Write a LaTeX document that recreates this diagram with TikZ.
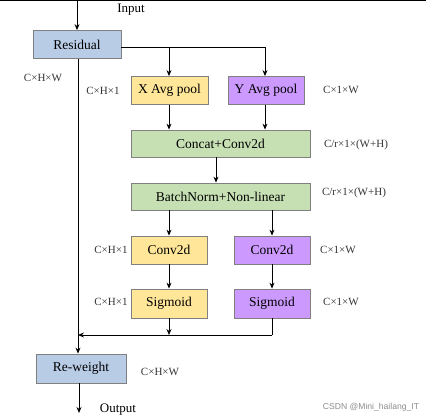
\documentclass[tikz,border=0pt]{standalone}
\usepackage{fontspec}
\setmainfont{Liberation Serif}
\newfontfamily\wmfont{Liberation Sans}
\usetikzlibrary{arrows.meta}
\definecolor{bluef}{HTML}{B8CCE6}
\definecolor{yelf}{HTML}{FFE699}
\definecolor{purf}{HTML}{CC99FF}
\definecolor{grnf}{HTML}{C6E0B4}
\definecolor{bord}{HTML}{808080}
\tikzset{
  blk/.style={draw=bord, line width=0.8pt, minimum height=28pt, inner sep=0pt, font=\fontsize{13.5}{15}\selectfont},
  lbl/.style={font=\fontsize{11}{13}\selectfont, text=black!80, inner sep=0pt},
  io/.style={font=\fontsize{13}{15}\selectfont, inner sep=0pt},
  arr/.style={-{Stealth[length=6pt,width=5pt]}, line width=0.8pt},
  ln/.style={line width=0.8pt},
}
\begin{document}
\begin{tikzpicture}[x=1pt,y=-1pt]
\useasboundingbox (0,0) rectangle (426,419);
\draw[line width=1pt] (0,0.5) -- (426,0.5);
% boxes
\node[blk, fill=bluef, minimum width=88pt] (res) at (77,44.5) {Residual};
\node[blk, fill=yelf, minimum width=77pt] (xap) at (169.5,90.5) {X Avg pool};
\node[blk, fill=purf, minimum width=76pt] (yap) at (266,90.5) {Y Avg pool};
\node[blk, fill=grnf, minimum width=179pt, minimum height=27pt] (cat) at (220.5,143.5) {Concat+Conv2d};
\node[blk, fill=grnf, minimum width=179pt, minimum height=27pt] (bn) at (220.5,196.5) {BatchNorm+Non-linear};
\node[blk, fill=yelf, minimum width=76pt] (c1) at (169,250) {Conv2d};
\node[blk, fill=purf, minimum width=76pt] (c2) at (272,250) {Conv2d};
\node[blk, fill=yelf, minimum width=76pt, minimum height=29pt] (s1) at (169,303.5) {Sigmoid};
\node[blk, fill=purf, minimum width=76pt, minimum height=29pt] (s2) at (272,303.5) {Sigmoid};
\node[blk, fill=bluef, minimum width=90pt, minimum height=29pt] (rw) at (81,368.5) {Re-weight};
% texts
\node[io] (tin) at (131,10) {Input};
\node[io] (tout) at (118,410) {Output};
\node[lbl] (l1) at (43,78) {C×H×W};
\node[lbl] (l2) at (103,91) {C×H×1};
\node[lbl] (l3) at (341,90) {C×1×W};
\node[lbl] (l4) at (356,145) {C/r×1×(W+H)};
\node[lbl] (l5) at (354,193) {C/r×1×(W+H)};
\node[lbl] (l6) at (111,250) {C×H×1};
\node[lbl] (l7) at (338,250) {C×1×W};
\node[lbl] (l8) at (111,302) {C×H×1};
\node[lbl] (l9) at (341,302) {C×1×W};
\node[lbl] (l10) at (160,372) {C×H×W};
\node[font=\wmfont\fontsize{8.6}{10}\selectfont, text=black!45, inner sep=0pt] (wm) at (371,407) {CSDN @Mini\_hailang\_IT};
% connectors
\coordinate (top) at (77,0);
\coordinate (j1) at (265,47);
\coordinate (j2) at (169,47);
\coordinate (m) at (272,335);
\coordinate (mj) at (78,335);
\coordinate (bot) at (79,413);
\draw[arr] (top) -- (res.north -| top);
\draw[ln] (res.east |- j1) -- (j1);
\draw[arr] (j1) -- (j1 |- yap.north);
\draw[arr] (j2) -- (j2 |- xap.north);
\draw[arr] (xap.south -| j2) -- (j2 |- cat.north);
\draw[arr] (yap.south -| j1) -- (j1 |- cat.north);
\draw[arr] (cat.south -| 216,0) -- (bn.north -| 216,0);
\draw[arr] (bn.south -| c1) -- (c1.north);
\draw[arr] (bn.south -| c2) -- (c2.north);
\draw[arr] (c1) -- (s1);
\draw[arr] (c2) -- (s2);
\draw[arr] (s1.south) -- (s1.south |- m);
\draw[ln] (s2.south) -- (m);
\draw[arr] (m) -- (mj);
\draw[arr] (res.south -| mj) -- (rw.north -| mj);
\draw[arr] (rw.south -| bot) -- (bot);
\end{tikzpicture}
\end{document}
